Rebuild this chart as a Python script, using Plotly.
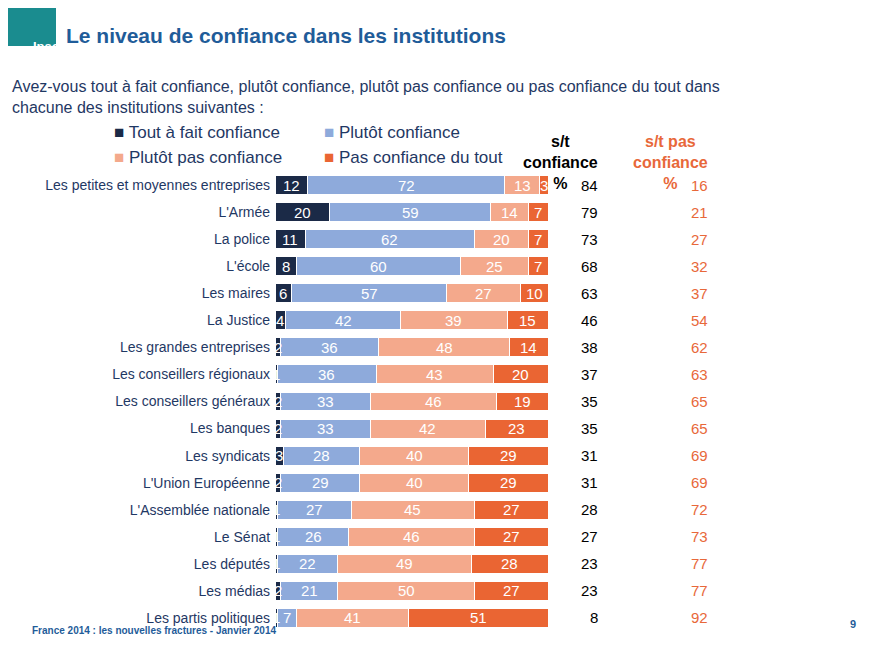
import plotly.graph_objects as go

institutions = ["Les petites et moyennes entreprises", "L'Armée", "La police", "L'école",
                "Les maires", "La Justice", "Les grandes entreprises", "Les conseillers régionaux",
                "Les conseillers généraux", "Les banques", "Les syndicats", "L'Union Européenne",
                "L'Assemblée nationale", "Le Sénat", "Les députés", "Les médias", "Les partis politiques"]
tout_a_fait = [12, 20, 11, 8, 6, 4, 2, 1, 2, 2, 3, 2, 1, 1, 1, 2, 1]
plutot = [72, 59, 62, 60, 57, 42, 36, 36, 33, 33, 28, 29, 27, 26, 22, 21, 7]
plutot_pas = [13, 14, 20, 25, 27, 39, 48, 43, 46, 42, 40, 40, 45, 46, 49, 50, 41]
pas_du_tout = [3, 7, 7, 7, 10, 15, 14, 20, 19, 23, 29, 29, 27, 27, 28, 27, 51]
st_confiance = [84, 79, 73, 68, 63, 46, 38, 37, 35, 35, 31, 31, 28, 27, 23, 23, 8]
st_pas_confiance = [16, 21, 27, 32, 37, 54, 62, 63, 65, 65, 69, 69, 72, 73, 77, 77, 92]

series = [("Tout à fait confiance", tout_a_fait, "#1b2a47"),
          ("Plutôt confiance", plutot, "#8eaadb"),
          ("Plutôt pas confiance", plutot_pas, "#f4a98c"),
          ("Pas confiance du tout", pas_du_tout, "#ea6533")]

W, H, OFF = 867, 639, 8  # page body margin shifts the figure by 8px


def px(x):
    return (x - OFF) / W


def py(y):
    return 1 - (y - OFF) / H


fig = go.Figure()
base = [0] * len(institutions)
for name, vals, col in series:
    fig.add_trace(go.Bar(y=institutions, x=vals, name=name, orientation="h",
                         marker=dict(color=col, line=dict(color="white", width=1)),
                         showlegend=False, hoverinfo="x+y"))
    for i, v in enumerate(vals):
        fig.add_annotation(x=base[i] + v / 2, y=institutions[i], xref="x", yref="y",
                           text=str(v), showarrow=False,
                           font=dict(color="white", size=15, family="Liberation Sans"))
        base[i] += v

for i, inst in enumerate(institutions):
    fig.add_annotation(x=px(600), y=inst, xref="paper", yref="y", text=str(st_confiance[i]),
                       showarrow=False, font=dict(size=15, color="black"))
    fig.add_annotation(x=px(710), y=inst, xref="paper", yref="y", text=str(st_pas_confiance[i]),
                       showarrow=False, font=dict(size=15, color="#e8683a"))

fig.update_layout(
    width=W, height=H, barmode="stack", bargap=0.3,
    plot_bgcolor="white", paper_bgcolor="white",
    margin=dict(l=0, r=0, t=0, b=0),
    font=dict(family="Liberation Sans", color="#1f3864"),
    xaxis=dict(domain=[px(275), px(548)], range=[0, 100], visible=False),
    yaxis=dict(domain=[py(631.5), py(171.5)], autorange="reversed",
               tickfont=dict(size=14, color="#1f3864"), ticks="", showgrid=False,
               ticksuffix=" "),
)

fig.add_shape(type="rect", xref="paper", yref="paper", x0=px(6), x1=px(56),
              y0=py(46), y1=py(4), fillcolor="#1a8c8f", line_width=0)
fig.add_annotation(x=px(31), y=py(37), xref="paper", yref="paper", text="<b>Ipsos</b>",
                   showarrow=False, font=dict(size=13, color="white"))
fig.add_annotation(x=px(64), y=py(22), xref="paper", yref="paper", xanchor="left",
                   text="<b>Le niveau de confiance dans les institutions</b>",
                   showarrow=False, font=dict(size=21, color="#1f5c99"))
fig.add_annotation(x=px(10), y=py(76), xref="paper", yref="paper", xanchor="left",
                   align="left", showarrow=False, font=dict(size=16, color="#1f3864"),
                   text="Avez-vous tout à fait confiance, plutôt confiance, plutôt pas confiance ou pas confiance du tout dans<br>chacune des institutions suivantes :")
legend_pos = [(112, 121), (322, 121), (112, 146), (322, 146)]
for (name, vals, col), (lx, ly) in zip(series, legend_pos):
    fig.add_annotation(x=px(lx), y=py(ly), xref="paper", yref="paper", xanchor="left",
                       text=f"<span style='color:{col}'>■</span> {name}", showarrow=False,
                       font=dict(size=17, color="#1f3864"))
fig.add_annotation(x=px(600), y=py(131), xref="paper", yref="paper",
                   text="<b>s/t<br>confiance<br>%</b>", showarrow=False,
                   font=dict(size=16, color="black"))
fig.add_annotation(x=px(710), y=py(131), xref="paper", yref="paper",
                   text="<b>s/t pas<br>confiance<br>%</b>", showarrow=False,
                   font=dict(size=16, color="#e8683a"))
fig.add_annotation(x=px(30), y=py(638), xref="paper", yref="paper", xanchor="left",
                   text="<b>France 2014 : les nouvelles fractures - Janvier 2014</b>",
                   showarrow=False, font=dict(size=10, color="#1f5c99"))
fig.add_annotation(x=px(858), y=py(632), xref="paper", yref="paper",
                   text="<b>9</b>", showarrow=False, font=dict(size=11, color="#1f5c99"))

fig.write_html("out.html")
